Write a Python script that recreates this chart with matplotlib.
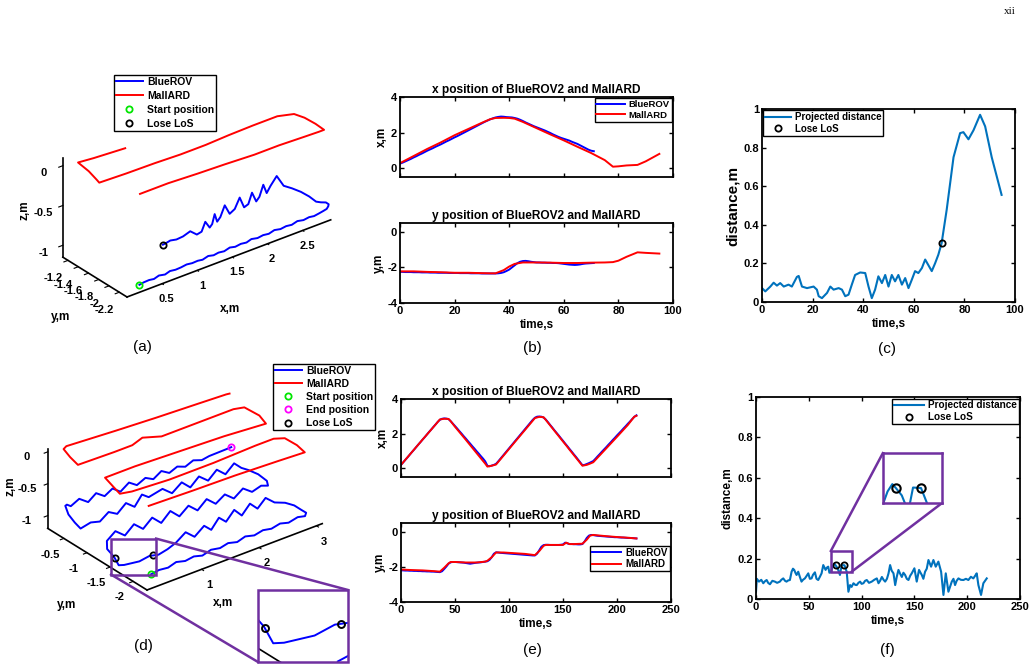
import numpy as np
import matplotlib
matplotlib.use('Agg')
import matplotlib.pyplot as plt
from matplotlib.patches import Rectangle
from matplotlib.lines import Line2D
from matplotlib.ticker import FuncFormatter
from mpl_toolkits.mplot3d import proj3d

# ---------------- data ----------------
# run 1 (a, b, c): MallARD breakpoints
mal_t_b = [0, 5, 10, 15, 20, 25, 30, 33, 35, 38, 40, 42, 45, 50, 55, 60, 65, 70, 75, 78, 80, 83, 87, 90, 95]
mal_x_b = [0.28, 0.68, 1.08, 1.45, 1.85, 2.2, 2.55, 2.75, 2.82, 2.83, 2.82, 2.78, 2.6, 2.25, 1.9,
           1.56, 1.2, 0.85, 0.45, 0.08, 0.1, 0.15, 0.18, 0.38, 0.8]
mal_y_b = [-2.22, -2.22, -2.25, -2.27, -2.3, -2.3, -2.32, -2.33, -2.33, -2.15, -1.95, -1.8, -1.72,
           -1.72, -1.73, -1.75, -1.75, -1.73, -1.72, -1.7, -1.62, -1.4, -1.15, -1.18, -1.22]

# run 1 BlueROV, 1 s samples 0..71 s
rov_t_b = np.arange(72)
rov_x_b = [0.25, 0.31, 0.38, 0.45, 0.52, 0.6, 0.67, 0.75, 0.82, 0.9, 0.98, 1.05,
           1.12, 1.2, 1.27, 1.34, 1.42, 1.5, 1.57, 1.65, 1.73, 1.8, 1.88, 1.96,
           2.04, 2.12, 2.2, 2.28, 2.36, 2.44, 2.52, 2.6, 2.67, 2.74, 2.8, 2.85,
           2.88, 2.9, 2.89, 2.87, 2.86, 2.85, 2.82, 2.78, 2.72, 2.65, 2.57, 2.5,
           2.43, 2.36, 2.3, 2.24, 2.18, 2.12, 2.05, 1.98, 1.9, 1.83, 1.76, 1.7,
           1.65, 1.6, 1.55, 1.48, 1.42, 1.36, 1.28, 1.2, 1.12, 1.04, 0.98, 0.95]
rov_y_b = [-2.25, -2.25, -2.26, -2.26, -2.26, -2.27, -2.27, -2.27, -2.28, -2.28, -2.28, -2.29,
           -2.29, -2.29, -2.3, -2.3, -2.3, -2.3, -2.31, -2.31, -2.31, -2.31, -2.32, -2.32,
           -2.32, -2.32, -2.33, -2.33, -2.33, -2.33, -2.34, -2.34, -2.34, -2.34, -2.34, -2.34,
           -2.33, -2.31, -2.27, -2.2, -2.12, -2.0, -1.88, -1.76, -1.68, -1.64, -1.63, -1.65,
           -1.68, -1.7, -1.72, -1.72, -1.73, -1.73, -1.74, -1.74, -1.75, -1.75, -1.76, -1.78,
           -1.8, -1.82, -1.84, -1.85, -1.86, -1.85, -1.83, -1.8, -1.78, -1.77, -1.76, -1.75]
rov_z_b = [-1.12, -1.11, -1.1, -1.11, -1.09, -1.1, -1.08, -1.09, -1.08, -1.07, -1.08, -1.07,
           -1.08, -1.06, -1.07, -1.06, -1.07, -1.05, -1.06, -1.05, -1.06, -1.04, -1.05, -1.04,
           -1.05, -1.03, -1.04, -1.03, -1.04, -1.02, -1.03, -1.02, -1.03, -1.02, -1.01, -1.0,
           -0.98, -0.97, -0.96, -0.98, -1.0, -0.98, -0.96, -0.95, -0.93, -0.8, -0.9, -0.96,
           -0.82, -0.94, -0.97, -0.84, -0.96, -0.98, -0.83, -0.95, -0.98, -0.85, -0.97, -1.0,
           -0.88, -0.98, -1.0, -0.9, -1.0, -1.02, -0.96, -1.01, -1.03, -1.02, -1.04, -1.05]
los_t_b = [71]

# run 1 projected distance
dist_t_c = [0, 1.3, 3.3, 4.6, 5.9, 7.2, 8.6, 10.5, 11.8, 13.8, 14.5, 15.8, 17.8, 20.4, 21.7,
            22.4, 23.7, 25.7, 27, 28.3, 30.3, 31.6, 32.9, 34.2, 35.5, 36.8, 38.8, 40.8, 42.1, 43.4,
            44.7, 46, 47.4, 48.7, 50, 51.3, 52.6, 53.9, 55.3, 56.6, 57.9, 59.2, 60.5, 61.8, 63.2,
            64.5, 65.8, 67.1, 68.4, 69.7, 71, 73, 75.7, 78.3, 79.6, 81.6, 83.6, 86.2, 88.2, 90.8, 94.7]
dist_c = [0.072, 0.055, 0.08, 0.1, 0.085, 0.098, 0.08, 0.09, 0.08, 0.13, 0.135, 0.08, 0.072, 0.08, 0.064,
          0.03, 0.02, 0.047, 0.08, 0.064, 0.072, 0.064, 0.03, 0.038, 0.09, 0.14, 0.153, 0.15, 0.08, 0.02,
          0.064, 0.133, 0.098, 0.14, 0.08, 0.14, 0.107, 0.14, 0.09, 0.124, 0.072, 0.115, 0.16, 0.15, 0.176,
          0.22, 0.19, 0.16, 0.2, 0.245, 0.305, 0.478, 0.75, 0.875, 0.88, 0.843, 0.89, 0.97, 0.91, 0.75, 0.555]

# run 2 (d, e, f): MallARD breakpoints
mal_t_e = [0, 10, 20, 30, 36, 40, 44, 46, 50, 60, 70, 78, 80, 84, 88, 95, 105, 115, 124, 128,
           132, 134, 140, 150, 153, 156, 160, 168, 172, 175, 178, 190, 200, 210, 216, 218]
mal_x_e = [0.2, 0.93, 1.66, 2.38, 2.82, 2.86, 2.85, 2.72, 2.4, 1.65, 0.88, 0.27, 0.1, 0.15, 0.22,
           0.74, 1.49, 2.23, 2.9, 2.97, 2.95, 2.8, 2.33, 1.55, 1.32, 1.08, 0.77, 0.15, 0.2, 0.27,
           0.35, 1.15, 1.82, 2.5, 2.98, 3.03]
mal_y_e = [-2.15, -2.18, -2.2, -2.24, -2.27, -2.05, -1.8, -1.72, -1.72, -1.75, -1.75, -1.7, -1.65,
           -1.45, -1.18, -1.18, -1.22, -1.26, -1.33, -1.1, -0.8, -0.75, -0.75, -0.75, -0.62, -0.7,
           -0.7, -0.68, -0.45, -0.22, -0.18, -0.25, -0.3, -0.34, -0.37, -0.38]

# run 2 BlueROV, 2 s samples 0..218 s
rov_t_e = np.arange(0, 220, 2)
rov_x_e = [0.2, 0.34, 0.49, 0.63, 0.78, 0.93, 1.07, 1.22, 1.37, 1.51,
           1.66, 1.8, 1.95, 2.1, 2.24, 2.39, 2.53, 2.68, 2.8, 2.86,
           2.88, 2.87, 2.84, 2.72, 2.58, 2.44, 2.3, 2.15, 2.01, 1.86,
           1.72, 1.57, 1.43, 1.28, 1.14, 0.99, 0.85, 0.7, 0.56, 0.4,
           0.15, 0.12, 0.16, 0.2, 0.26, 0.4, 0.55, 0.7, 0.85, 1.0,
           1.15, 1.3, 1.45, 1.6, 1.75, 1.9, 2.05, 2.2, 2.35, 2.5,
           2.65, 2.8, 2.92, 2.98, 2.99, 2.98, 2.93, 2.82, 2.67, 2.51,
           2.36, 2.2, 2.05, 1.9, 1.74, 1.59, 1.43, 1.28, 1.12, 0.97,
           0.81, 0.66, 0.5, 0.34, 0.18, 0.2, 0.25, 0.3, 0.36, 0.42,
           0.55, 0.69, 0.82, 0.96, 1.09, 1.22, 1.36, 1.49, 1.63, 1.76,
           1.9, 2.03, 2.16, 2.3, 2.43, 2.57, 2.7, 2.84, 2.97, 3.06]
rov_y_e = [-2.2, -2.2, -2.21, -2.21, -2.22, -2.22, -2.23, -2.23, -2.24, -2.24,
           -2.25, -2.25, -2.26, -2.26, -2.27, -2.27, -2.28, -2.29, -2.3, -2.25,
           -2.12, -1.98, -1.82, -1.74, -1.72, -1.72, -1.73, -1.74, -1.75, -1.76,
           -1.78, -1.8, -1.82, -1.8, -1.78, -1.76, -1.75, -1.74, -1.72, -1.7,
           -1.68, -1.6, -1.45, -1.25, -1.17, -1.18, -1.2, -1.21, -1.22, -1.23,
           -1.24, -1.25, -1.26, -1.27, -1.28, -1.29, -1.3, -1.31, -1.32, -1.33,
           -1.34, -1.35, -1.35, -1.25, -1.05, -0.85, -0.76, -0.74, -0.74, -0.75,
           -0.75, -0.75, -0.75, -0.75, -0.74, -0.72, -0.62, -0.66, -0.7, -0.7,
           -0.71, -0.71, -0.72, -0.72, -0.7, -0.55, -0.35, -0.22, -0.18, -0.19,
           -0.21, -0.23, -0.24, -0.25, -0.26, -0.27, -0.28, -0.29, -0.3, -0.31,
           -0.31, -0.32, -0.33, -0.33, -0.34, -0.35, -0.35, -0.36, -0.37, -0.38]
rov_z_e = [-1.05, -1.03, -1.04, -1.0, -1.03, -1.01, -1.04, -1.0, -1.02, -0.99,
           -1.02, -0.98, -1.01, -0.98, -1.0, -0.97, -1.0, -0.96, -0.98, -0.97,
           -0.99, -0.98, -1.0, -0.99, -0.88, -1.0, -0.87, -1.0, -0.86, -0.99,
           -0.87, -1.0, -0.88, -1.01, -0.9, -1.02, -1.08, -1.12, -1.1, -1.14,
           -1.12, -1.15, -1.1, -1.08, -1.01, -0.9, -1.01, -0.88, -1.0, -0.87,
           -1.0, -0.86, -0.99, -0.87, -0.99, -0.86, -0.98, -0.88, -0.99, -0.88,
           -0.98, -0.93, -0.97, -0.96, -0.95, -0.97, -0.96, -0.86, -0.98, -0.85,
           -0.97, -0.85, -0.97, -0.84, -0.96, -0.85, -0.97, -0.86, -0.98, -0.87,
           -0.98, -0.9, -0.99, -0.95, -1.0, -0.98, -0.96, -0.9, -0.92, -0.96,
           -0.88, -0.97, -0.87, -0.96, -0.88, -0.97, -0.87, -0.95, -0.88, -0.94,
           -0.86, -0.93, -0.87, -0.92, -0.86, -0.9, -0.88, -0.87, -0.86, -0.85]
los_t_e = [75.3, 83.8]

# run 2 projected distance
dist_t_f = [0, 0.8, 2.8, 5, 6.9, 8.5, 10.1, 11.5, 13.2, 15.5,
            17.9, 20, 22.6, 24, 25.8, 27.5, 28.9, 30.5, 32.1, 33.7,
            35, 36.2, 37.3, 38.4, 40, 41.5, 43.1, 44.5, 46.3, 48,
            49.5, 51, 52.6, 54, 55.8, 57.3, 58.9, 60.5, 62.1, 63.7,
            65.9, 67, 68.4, 69.5, 71, 72.5, 74.1, 75.3, 77.3, 79.5,
            81.1, 83.8, 85.9, 87.5, 89.1, 90.5, 92.3, 94, 95.4, 97,
            98.6, 100, 101.7, 103.3, 104.9, 107, 109.6, 112, 114.4, 116,
            117.5, 119.2, 120.8, 122.3, 124, 125.5, 127, 128.5, 130.2, 131.8,
            133.3, 134.9, 136.5, 138.1, 139.6, 141.2, 142.8, 144.4, 146, 147.5,
            150, 152.2, 154.4, 155.8, 157, 158.5, 160.1, 161.7, 163.3, 165.8,
            168, 170.2, 172.7, 175.3, 177.5, 179.7, 182.2, 185.4, 187, 188.5,
            190, 191.7, 194, 196.4, 198.8, 201.1, 203.5, 205.8, 207.5, 209,
            210.6, 213.1, 215.3, 218.5]
dist_f = [0.036, 0.1, 0.086, 0.095, 0.078, 0.088, 0.094, 0.08, 0.073, 0.09,
          0.086, 0.08, 0.086, 0.095, 0.102, 0.09, 0.086, 0.092, 0.094, 0.135,
          0.15, 0.144, 0.13, 0.119, 0.135, 0.11, 0.086, 0.095, 0.102, 0.115,
          0.127, 0.1, 0.102, 0.12, 0.132, 0.1, 0.094, 0.11, 0.127, 0.168,
          0.144, 0.155, 0.16, 0.13, 0.135, 0.16, 0.175, 0.167, 0.152, 0.119,
          0.168, 0.167, 0.135, 0.036, 0.069, 0.06, 0.078, 0.07, 0.069, 0.08,
          0.086, 0.075, 0.078, 0.09, 0.094, 0.08, 0.086, 0.095, 0.102, 0.078,
          0.09, 0.109, 0.095, 0.086, 0.1, 0.127, 0.168, 0.14, 0.127, 0.069,
          0.11, 0.144, 0.125, 0.109, 0.13, 0.119, 0.1, 0.094, 0.115, 0.127,
          0.152, 0.086, 0.144, 0.13, 0.119, 0.1, 0.135, 0.15, 0.193, 0.16,
          0.193, 0.16, 0.185, 0.135, 0.02, 0.127, 0.036, 0.086, 0.1, 0.069,
          0.09, 0.102, 0.095, 0.094, 0.1, 0.094, 0.11, 0.102, 0.115, 0.127,
          0.069, 0.02, 0.078, 0.102]

# zoom windows of panel (f): (t0, t1, d0, d1)
zoom_win_f = (70.9, 90.8, 0.136, 0.238)
inset_win_f = (120.1, 175.9, 0.474, 0.722)

# ---------------- style ----------------
plt.rcParams['font.family'] = ['Liberation Sans', 'DejaVu Sans']
plt.rcParams['font.weight'] = 'bold'
plt.rcParams['axes.labelweight'] = 'bold'
plt.rcParams['axes.titleweight'] = 'bold'
plt.rcParams['axes.unicode_minus'] = False
plt.rcParams['font.size'] = 8
plt.rcParams['legend.fancybox'] = False
plt.rcParams['legend.edgecolor'] = 'k'
plt.rcParams['legend.framealpha'] = 1

BLUE, RED, GREEN, MAG = (0, 0, 1), (1, 0, 0), (0, 0.9, 0), (1, 0, 1)
DCOL = '#0072BD'
PURPLE = '#7030A0'
gfmt = FuncFormatter(lambda v, p: '%g' % v)

W, H = 1036, 667
fig = plt.figure(figsize=(W / 100, H / 100), dpi=100)


def box(x0, y0, x1, y1):
    # pixel box measured from the top-left corner -> figure fraction
    return [x0 / W, 1 - y1 / H, (x1 - x0) / W, (y1 - y0) / H]


def style2d(ax):
    ax.tick_params(direction='in', top=True, right=True, length=3, width=1,
                   labelsize=8, pad=2)
    for s in ax.spines.values():
        s.set_linewidth(1.3)
    ax.yaxis.set_major_formatter(gfmt)


def leg(ax, spacing=0.15, **kw):
    lg = ax.legend(fancybox=False, borderpad=0.2, labelspacing=spacing,
                   handletextpad=0.4, borderaxespad=0.15, **kw)
    lg.get_frame().set_linewidth(1.0)
    return lg


circ = dict(ls='none', marker='o', mfc='none', ms=4.5, mew=1.3)

# ---------------- (b) ----------------
ax = fig.add_axes(box(400, 97, 673, 177))
ax.plot(rov_t_b, rov_x_b, color=BLUE, lw=1.4, label='BlueROV')
ax.plot(mal_t_b, mal_x_b, color=RED, lw=1.4, label='MallARD')
ax.set_xlim(0, 100)
ax.set_ylim(-0.5, 4)
ax.set_yticks([0, 2, 4])
style2d(ax)
ax.tick_params(labelbottom=False)
ax.set_ylabel('x,m', fontsize=8.5, labelpad=2)
ax.set_title('x position of BlueROV2 and MallARD', fontsize=8.6, pad=3)
leg(ax, loc='upper right', fontsize=6.8, handlelength=3.0)

ax = fig.add_axes(box(400, 223, 673, 303))
ax.plot(rov_t_b, rov_y_b, color=BLUE, lw=1.4)
ax.plot(mal_t_b, mal_y_b, color=RED, lw=1.4)
ax.set_xlim(0, 100)
ax.set_ylim(-4, 0.5)
ax.set_yticks([-4, -2, 0])
style2d(ax)
ax.set_ylabel('y,m', fontsize=8.5, labelpad=2)
ax.set_xlabel('time,s', fontsize=8.5, labelpad=2)
ax.set_title('y position of BlueROV2 and MallARD', fontsize=8.6, pad=3)

# ---------------- (c) ----------------
ax = fig.add_axes(box(762, 109, 1015, 302))
ax.plot(dist_t_c, dist_c, color=DCOL, lw=1.5, label='Projected distance')
ax.plot(los_t_b, np.interp(los_t_b, dist_t_c, dist_c), color='k', label='Lose LoS', **circ)
ax.set_xlim(0, 100)
ax.set_ylim(0, 1)
ax.set_yticks(np.arange(0, 1.01, 0.2))
style2d(ax)
ax.set_xlabel('time,s', fontsize=8.5, labelpad=2)
ax.set_ylabel('distance,m', fontsize=11, labelpad=3)
leg(ax, loc='upper left', fontsize=7.0, handlelength=2.6)

# ---------------- (e) ----------------
ax = fig.add_axes(box(401, 399, 671, 477))
ax.plot(rov_t_e, rov_x_e, color=BLUE, lw=1.4)
ax.plot(mal_t_e, mal_x_e, color=RED, lw=1.4)
ax.set_xlim(0, 250)
ax.set_ylim(-0.5, 4)
ax.set_yticks([0, 2, 4])
style2d(ax)
ax.tick_params(labelbottom=False)
ax.set_ylabel('x,m', fontsize=8.5, labelpad=2)
ax.set_title('x position of BlueROV2 and MallARD', fontsize=8.6, pad=3)

ax = fig.add_axes(box(401, 523, 671, 602))
ax.plot(rov_t_e, rov_y_e, color=BLUE, lw=1.4, label='BlueROV')
ax.plot(mal_t_e, mal_y_e, color=RED, lw=1.4, label='MallARD')
ax.set_xlim(0, 250)
ax.set_ylim(-4, 0.5)
ax.set_yticks([-4, -2, 0])
style2d(ax)
ax.set_ylabel('y,m', fontsize=8.5, labelpad=2)
ax.set_xlabel('time,s', fontsize=8.5, labelpad=2)
ax.set_title('y position of BlueROV2 and MallARD', fontsize=8.6, pad=3)
leg(ax, loc='center right', bbox_to_anchor=(1.0, 0.55), fontsize=7, handlelength=3.0)

# ---------------- (f) ----------------
ax_f = fig.add_axes(box(756, 397, 1020, 599))
los_d_f = np.interp(los_t_e, dist_t_f, dist_f)
ax_f.plot(dist_t_f, dist_f, color=DCOL, lw=1.5, label='Projected distance')
ax_f.plot(los_t_e, los_d_f, color='k', label='Lose LoS', **circ)
ax_f.set_xlim(0, 250)
ax_f.set_ylim(0, 1)
ax_f.set_yticks(np.arange(0, 1.01, 0.2))
style2d(ax_f)
ax_f.set_xlabel('time,s', fontsize=8.5, labelpad=2)
ax_f.set_ylabel('distance,m', fontsize=8.5, labelpad=3)
leg(ax_f, loc='upper right', fontsize=7.2, handlelength=3.0)

zx0, zx1, zy0, zy1 = zoom_win_f
ix0, ix1, iy0, iy1 = inset_win_f
ax_fi = ax_f.inset_axes([ix0, iy0, ix1 - ix0, iy1 - iy0], transform=ax_f.transData)
ax_fi.plot(dist_t_f, dist_f, color=DCOL, lw=1.5)
ax_fi.plot(los_t_e, los_d_f, color='k', ls='none', marker='o', mfc='none', ms=6, mew=1.5)
ax_fi.set_xlim(zx0, zx1)
ax_fi.set_ylim(zy0, zy1)
ax_fi.set_xticks([])
ax_fi.set_yticks([])
for s in ax_fi.spines.values():
    s.set_color(PURPLE)
    s.set_linewidth(1.8)
ax_f.add_patch(Rectangle((zx0, zy0), zx1 - zx0, zy1 - zy0, fill=False, ec=PURPLE, lw=1.8, zorder=5))
ax_f.plot([zx0, ix0], [zy1, iy1], color=PURPLE, lw=1.8, zorder=5)
ax_f.plot([zx1, ix1], [zy0, iy0], color=PURPLE, lw=1.8, zorder=5)


# ---------------- 3D panels ----------------
def setup3d(ax, aspect, xl, yl, zl, xt, yt, zt):
    ax.set_proj_type('ortho')
    ax.view_init(elev=29, azim=-128)
    ax.set_facecolor('none')
    ax.grid(False)
    ax.set_xlim(*xl)
    ax.set_ylim(*yl)
    ax.set_zlim(*zl)
    ax.set_box_aspect(aspect)
    ax.set_xticks(xt)
    ax.set_yticks(yt)
    ax.set_zticks(zt)
    for a in (ax.xaxis, ax.yaxis, ax.zaxis):
        a.pane.fill = False
        a.pane.set_edgecolor((1, 1, 1, 0))
        a.line.set_linewidth(1.2)
        a.line.set_color('k')
        a.set_major_formatter(gfmt)
        a._axinfo['tick']['inward_factor'] = 0.25
        a._axinfo['tick']['outward_factor'] = 0.0
    ax.tick_params(labelsize=8, pad=0)


def cube_px(ax, p):
    x2, y2, _ = proj3d.proj_transform(p[0], p[1], p[2], ax.get_proj())
    return np.array(ax.transData.transform((x2, y2)))


def fit_cube(ax, p0, p1, t0, t1):
    # move / scale the square 3D box so two cube corners land on the wanted pixels
    fig.canvas.draw()
    a, b = cube_px(ax, p0), cube_px(ax, p1)
    t0 = np.array([t0[0], H - t0[1]], float)
    t1 = np.array([t1[0], H - t1[1]], float)
    pos = ax.get_position()
    c0 = np.array([(pos.x0 + pos.x1) / 2 * W, (pos.y0 + pos.y1) / 2 * H])
    s = np.linalg.norm(t1 - t0) / np.linalg.norm(b - a)
    c1 = t0 - s * (a - c0)
    side = pos.width * W * s
    ax.set_position([(c1[0] - side / 2) / W, (c1[1] - side / 2) / H, side / W, side / H])


# (a)
xl_a, yl_a, zl_a = (0.0, 2.9), (-2.35, -1.1), (-1.15, 0.1)
ax_a = fig.add_axes(box(30, 30, 330, 330), projection='3d', computed_zorder=False)
ax_a.plot(rov_x_b, rov_y_b, rov_z_b, color=BLUE, lw=1.4, label='BlueROV')
ax_a.plot(mal_x_b, mal_y_b, np.zeros(len(mal_x_b)), color=RED, lw=1.4, label='MallARD')
ax_a.plot(rov_x_b[:1], rov_y_b[:1], rov_z_b[:1], color=GREEN, label='Start position', **circ)
ax_a.plot(np.interp(los_t_b, rov_t_b, rov_x_b), np.interp(los_t_b, rov_t_b, rov_y_b),
          np.interp(los_t_b, rov_t_b, rov_z_b), color='k', label='Lose LoS', **circ)
setup3d(ax_a, (258, 104, 113.5), xl_a, yl_a, zl_a,
        [0.5, 1, 1.5, 2, 2.5], [-2.2, -2, -1.8, -1.6, -1.4, -1.2], [-1, -0.5, 0])
fit_cube(ax_a, (xl_a[0], yl_a[0], zl_a[0]), (xl_a[1], yl_a[0], zl_a[0]), (127, 297), (330, 218))
leg(ax_a, spacing=0.4, loc='upper left', bbox_to_anchor=(112 / W, 1 - 73 / H),
    bbox_transform=fig.transFigure, fontsize=7.5, handlelength=2.6)

# (d)
xl_d, yl_d, zl_d = (0.05, 3.1), (-2.3, -0.15), (-1.2, 0.05)
ax_d = fig.add_axes(box(20, 330, 340, 650), projection='3d', computed_zorder=False)
los_xd = np.interp(los_t_e, rov_t_e, rov_x_e)
los_yd = np.interp(los_t_e, rov_t_e, rov_y_e)
los_zd = np.interp(los_t_e, rov_t_e, rov_z_e)
ax_d.plot(rov_x_e, rov_y_e, rov_z_e, color=BLUE, lw=1.4, label='BlueROV')
ax_d.plot(mal_x_e, mal_y_e, np.zeros(len(mal_x_e)), color=RED, lw=1.4, label='MallARD')
ax_d.plot(rov_x_e[:1], rov_y_e[:1], rov_z_e[:1], color=GREEN, label='Start position', **circ)
ax_d.plot(rov_x_e[-1:], rov_y_e[-1:], rov_z_e[-1:], color=MAG, label='End position', **circ)
ax_d.plot(los_xd, los_yd, los_zd, color='k', label='Lose LoS', **circ)
setup3d(ax_d, (222, 161, 91), xl_d, yl_d, zl_d, [1, 2, 3], [-2, -1.5, -1, -0.5], [-1, -0.5, 0])
fit_cube(ax_d, (xl_d[0], yl_d[0], zl_d[0]), (xl_d[1], yl_d[0], zl_d[0]), (147, 590), (322, 523))
leg(ax_d, spacing=0.3, loc='upper left', bbox_to_anchor=(271 / W, 1 - 362 / H),
    bbox_transform=fig.transFigure, fontsize=7.5, handlelength=2.6)

# (d) zoomed copy around the lose-LoS points
mag = 2.0
big = (258, 590, 348, 662)
bw, bh = big[2] - big[0], big[3] - big[1]
bc = np.array([(big[0] + big[2]) / 2, H - (big[1] + big[3]) / 2])
P = np.array([los_xd.mean(), los_yd.mean(), los_zd.mean()])
xr, yr, zr = xl_d[1] - xl_d[0], yl_d[1] - yl_d[0], zl_d[1] - zl_d[0]
ax_di = fig.add_axes([(bc[0] - bw / 2) / W, (bc[1] - bw / 2) / H, bw / W, bw / H],
                     projection='3d', computed_zorder=False)
ax_di.plot(rov_x_e, rov_y_e, rov_z_e, color=BLUE, lw=1.4)
ax_di.plot(los_xd, los_yd, los_zd, color='k', ls='none', marker='o', mfc='none', ms=5, mew=1.4)
ax_di.plot([xl_d[0], xl_d[0]], yl_d, [zl_d[0], zl_d[0]], color='k', lw=1.2)
setup3d(ax_di, (222, 161, 91), (P[0] - xr / 2, P[0] + xr / 2), (P[1] - yr / 2, P[1] + yr / 2),
        (P[2] - zr / 2, P[2] + zr / 2), [], [], [])
ax_di.set_axis_off()
fig.canvas.draw()
q = P + np.array([0.4, 0, 0])
m_now = np.linalg.norm(cube_px(ax_di, q) - cube_px(ax_di, P)) / np.linalg.norm(cube_px(ax_d, q) - cube_px(ax_d, P))
ax_di.set_box_aspect((222, 161, 91), zoom=mag / m_now)
fig.canvas.draw()
shift = bc - cube_px(ax_di, P)
pos = ax_di.get_position()
ax_di.set_position([pos.x0 + shift[0] / W, pos.y0 + shift[1] / H, pos.width, pos.height])
clip = Rectangle((big[0] / W, 1 - big[3] / H), bw / W, bh / H, transform=fig.transFigure)
for ln in ax_di.lines:
    ln.set_clip_path(clip)

Pp = cube_px(ax_d, P)
sw, sh = bw / mag, bh / mag
sx0, sy0 = Pp[0] - sw / 2, Pp[1] - sh / 2
fig.add_artist(Rectangle((sx0 / W, sy0 / H), sw / W, sh / H, transform=fig.transFigure,
                         fill=False, ec=PURPLE, lw=1.8, zorder=10))
fig.add_artist(Rectangle((big[0] / W, 1 - big[3] / H), bw / W, bh / H, transform=fig.transFigure,
                         fill=False, ec=PURPLE, lw=1.8, zorder=10))
fig.add_artist(Line2D([(sx0 + sw) / W, big[2] / W], [(sy0 + sh) / H, 1 - big[1] / H],
                      transform=fig.transFigure, color=PURPLE, lw=1.8, zorder=10))
fig.add_artist(Line2D([sx0 / W, big[0] / W], [sy0 / H, 1 - big[3] / H],
                      transform=fig.transFigure, color=PURPLE, lw=1.8, zorder=10))

# 3D axis names
for x, y, s, r in [(25, 210, 'z,m', 90), (61, 317, 'y,m', 0), (230, 309, 'x,m', 0),
                   (11, 486, 'z,m', 90), (67, 605, 'y,m', 0), (223, 603, 'x,m', 0)]:
    fig.text(x / W, 1 - y / H, s, rotation=r, ha='center', va='center', fontsize=8.5)

# panel letters and page number
for x, y, s in [(142, 347, '(a)'), (532, 348, '(b)'), (887, 349, '(c)'),
                (143, 646, '(d)'), (532, 650, '(e)'), (887, 650, '(f)')]:
    fig.text(x / W, 1 - y / H, s, ha='center', va='center', fontsize=11, fontweight='normal')
fig.text(1010 / W, 1 - 12 / H, 'xii', ha='center', va='center', fontsize=8,
         fontweight='normal', family=['Liberation Serif', 'DejaVu Serif'])

fig.savefig('out.png', dpi=100)
